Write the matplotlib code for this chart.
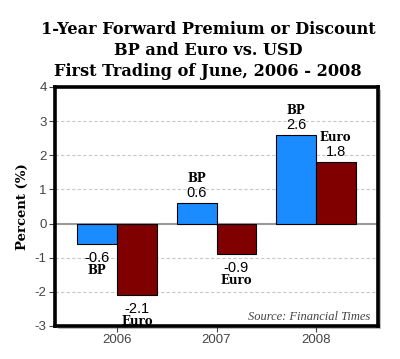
import matplotlib
matplotlib.use("Agg")
import matplotlib.pyplot as plt
import numpy as np
from matplotlib.patches import Rectangle

years = ["2006", "2007", "2008"]
bp = [-0.6, 0.6, 2.6]
euro = [-2.1, -0.9, 1.8]
series_names = ["BP", "Euro"]
yticks = [-3, -2, -1, 0, 1, 2, 3, 4]

fig = plt.figure(figsize=(4.0, 3.59), dpi=100)
ax = fig.add_axes([0.1375, 0.092, 0.8075, 0.666])

x = np.arange(len(years))
w = 0.4
colors = ["#1a8cff", "#800000"]
for vals, off, col, name in [(bp, -w/2, colors[0], series_names[0]), (euro, w/2, colors[1], series_names[1])]:
    ax.bar(x + off, vals, width=w, color=col, edgecolor="black", linewidth=0.8, zorder=3)
    for xi, v in zip(x + off, vals):
        s = 1 if v >= 0 else -1
        num_off = 7 if v >= 0 else 10
        name_off = 17.5 if v >= 0 else 19
        ax.annotate(f"{v:.1f}", (xi, v), xytext=(0, s * num_off), textcoords="offset points",
                    ha="center", va="center", fontsize=10.5, family="Liberation Sans",
                    color="black", annotation_clip=False, zorder=5)
        ax.annotate(name, (xi, v), xytext=(0, s * name_off), textcoords="offset points",
                    ha="center", va="center", fontsize=8.5, family="DejaVu Serif",
                    fontweight="bold", color="black", annotation_clip=False, zorder=5)

ax.set_xlim(-0.625, 2.625)
ax.set_ylim(-3, 4)
ax.set_xticks(x)
ax.set_xticklabels(years)
ax.set_yticks(yticks)
ax.set_yticklabels([str(t) for t in yticks])
for lab in ax.get_xticklabels() + ax.get_yticklabels():
    lab.set_family("Liberation Sans")
    lab.set_fontsize(9.5)
    lab.set_color("#444444")
ax.tick_params(axis="both", direction="out", length=4, width=0.8, color="#444444", pad=2)

for t in [-2, -1, 1, 2, 3]:
    ax.axhline(t, color="#c8c8c8", linewidth=0.8, linestyle=(0, (3, 2)), zorder=1)
ax.axhline(0, color="#999999", linewidth=1.5, zorder=2)

for sp in ax.spines.values():
    sp.set_linewidth(2.6)
    sp.set_color("black")

# shadow
bb = ax.get_position()
dx, dy = 3 / 400, 3 / 359
fig.patches.append(Rectangle((bb.x0 + dx, bb.y0 - dy), bb.width, bb.height,
                             transform=fig.transFigure, facecolor="#bbbbbb",
                             edgecolor="none", zorder=-1))
ax.set_zorder(1)

ax.set_ylabel("Percent (%)", family="DejaVu Serif", fontweight="bold", fontsize=9.5, labelpad=4)

ax.text(0.975, 0.038, "Source: Financial Times", transform=ax.transAxes, ha="right", va="center",
        family="Liberation Serif", style="italic", fontsize=9, color="#444444", zorder=5)

title_lines = ["1-Year Forward Premium or Discount", "BP and Euro vs. USD", "First Trading of June, 2006 - 2008"]
for i, line in enumerate(title_lines):
    fig.text(0.52, 1 - (29 + 21.5 * i) / 359, line, ha="center", va="center",
             family="DejaVu Serif", fontweight="bold", fontsize=11.6, color="black")

fig.savefig("out.png", dpi=100)
